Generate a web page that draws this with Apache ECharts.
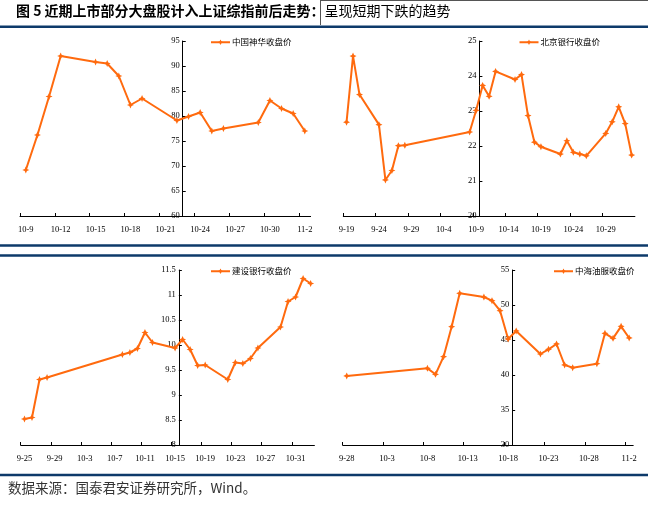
<!DOCTYPE html>
<html><head><meta charset="utf-8">
<script src="https://cdn.jsdelivr.net/npm/echarts@6/dist/echarts.min.js"></script>
<style>html,body{margin:0;padding:0;background:#fff}#c{width:648px;height:509px}</style>
</head><body><div id="c"></div>
<script>
const YEAR = 2007;

// 中国神华
const dates1 = ['10-9','10-10','10-11','10-12','10-15','10-16','10-17','10-18','10-19','10-22','10-23','10-24','10-25','10-26','10-29','10-30','10-31','11-1','11-2'];
const close1 = [69.2,76.2,83.9,92.0,90.8,90.5,88.0,82.2,83.5,79.1,79.9,80.7,77.0,77.5,78.7,83.1,81.5,80.5,77.0];
const ticks1 = ['10-9','10-12','10-15','10-18','10-21','10-24','10-27','10-30','11-2'];

// 北京银行
const dates2 = ['9-19','9-20','9-21','9-24','9-25','9-26','9-27','9-28','10-8','10-9','10-10','10-11','10-12','10-15','10-16','10-17','10-18','10-19','10-22','10-23','10-24','10-25','10-26','10-29','10-30','10-31','11-1','11-2'];
const close2 = [22.68,24.57,23.47,22.61,21.03,21.30,22.01,22.02,22.40,23.02,23.73,23.42,24.13,23.90,24.04,22.87,22.11,21.98,21.77,22.15,21.82,21.77,21.72,22.36,22.69,23.12,22.64,21.74];
const ticks2 = ['9-19','9-24','9-29','10-4','10-9','10-14','10-19','10-24','10-29'];

// 建设银行
const dates3 = ['9-25','9-26','9-27','9-28','10-8','10-9','10-10','10-11','10-12','10-15','10-16','10-17','10-18','10-19','10-22','10-23','10-24','10-25','10-26','10-29','10-30','10-31','11-1','11-2'];
const close3 = [8.52,8.55,9.31,9.35,9.81,9.85,9.93,10.25,10.05,9.94,10.11,9.91,9.59,9.60,9.31,9.65,9.63,9.73,9.94,10.36,10.87,10.96,11.33,11.23];
const ticks3 = ['9-25','9-29','10-3','10-7','10-11','10-15','10-19','10-23','10-27','10-31'];

// 中海油服
const dates4 = ['9-28','10-8','10-9','10-10','10-11','10-12','10-15','10-16','10-17','10-18','10-19','10-22','10-23','10-24','10-25','10-26','10-29','10-30','10-31','11-1','11-2'];
const close4 = [39.86,40.95,40.10,42.62,46.90,51.67,51.14,50.62,49.19,45.14,46.29,43.00,43.67,44.43,41.43,41.05,41.62,45.95,45.24,46.95,45.29];
const ticks4 = ['9-28','10-3','10-8','10-13','10-18','10-23','10-28','11-2'];

const names = ['中国神华收盘价','北京银行收盘价','建设银行收盘价','中海油服收盘价'];
const titleMain = '图 5 近期上市部分大盘股计入上证综指前后走势：';
const titleSub = '呈现短期下跌的趋势';
const sourceText = '数据来源：国泰君安证券研究所，Wind。';

function dayNum(s){const p=s.split('-').map(Number);return Date.UTC(YEAR,p[0]-1,p[1])/86400000;}

const panels = [
 {dates:dates1, vals:close1, ticks:ticks1, start:'10-9', end:'11-3', cross:'10-23', yMin:60, yMax:95, yStep:5,
  grid:{left:20,top:41,width:290.6,height:175}, legend:{left:210,top:38}},
 {dates:dates2, vals:close2, ticks:ticks2, start:'9-19', end:'11-3', cross:'10-10', yMin:20, yMax:25, yStep:1,
  grid:{left:343.3,top:41,width:291.6,height:175}, legend:{left:518.5,top:38}},
 {dates:dates3, vals:close3, ticks:ticks3, start:'9-25', end:'11-3', cross:'10-16', yMin:8, yMax:11.5, yStep:0.5,
  grid:{left:20.7,top:270,width:293.7,height:175}, legend:{left:210,top:267}},
 {dates:dates4, vals:close4, ticks:ticks4, start:'9-28', end:'11-3', cross:'10-19', yMin:30, yMax:55, yStep:5,
  grid:{left:342.7,top:270,width:290.5,height:175}, legend:{left:553,top:267}}
];

const ORANGE = '#FF6A0E';
const NAVY = '#0D3A6A';
const axisFont = {fontFamily:'Liberation Serif', fontSize:8.5, color:'#000'};
const starPath = 'path://M5,0 L6.6,3.4 L10,5 L6.6,6.6 L5,10 L3.4,6.6 L0,5 L3.4,3.4 Z';

const grids=[], xAxes=[], yAxes=[], series=[], legends=[];
panels.forEach((p,i)=>{
  const c = dayNum(p.cross);
  const xMin = dayNum(p.start)-c, xMax = dayNum(p.end)-c;
  const tickVals = p.ticks.map(t=>dayNum(t)-c);
  const labelVals = tickVals.map(v=>v+0.5);
  const labelMap = {};
  p.ticks.forEach((t,k)=>{labelMap[labelVals[k]] = t;});
  grids.push(Object.assign({containLabel:false}, p.grid));
  xAxes.push({
    type:'value', gridIndex:i, min:xMin, max:xMax,
    axisLine:{show:true, onZero:false, lineStyle:{color:'#000', width:1}},
    axisTick:{show:true, inside:true, length:3, customValues:tickVals, lineStyle:{color:'#000'}},
    axisLabel:Object.assign({show:true, margin:9, customValues:labelVals,
      formatter:v=>labelMap[v]!==undefined?labelMap[v]:''}, axisFont),
    splitLine:{show:false}
  });
  // place the vertical axis where the x value is 0 (the crossing date)
  const crossOffset = (0 - xMin)/(xMax - xMin) * p.grid.width;
  yAxes.push({
    type:'value', gridIndex:i, min:p.yMin, max:p.yMax, interval:p.yStep,
    position:'left', offset:-crossOffset,
    axisLine:{show:true, onZero:false, lineStyle:{color:'#000', width:1}},
    axisTick:{show:true, inside:true, length:3, lineStyle:{color:'#000'}},
    axisLabel:Object.assign({margin:3}, axisFont),
    splitLine:{show:false}
  });
  series.push({
    type:'line', name:names[i], xAxisIndex:i, yAxisIndex:i,
    data:p.dates.map((d,k)=>[dayNum(d)-c+0.5, p.vals[k]]),
    symbol:starPath, symbolSize:7, showSymbol:true,
    lineStyle:{color:ORANGE, width:2}, itemStyle:{color:ORANGE},
    emphasis:{disabled:true}
  });
  legends.push({
    data:[names[i]], left:p.legend.left, top:p.legend.top, orient:'horizontal',
    itemWidth:19, itemHeight:7, padding:0, selectedMode:false,
    textStyle:{fontFamily:'Noto Sans CJK SC', fontSize:8.5, color:'#000', padding:[0,0,0,-3]}
  });
});

const chart = echarts.init(document.getElementById('c'), null, {renderer:'canvas', width:648, height:509});
chart.setOption({
  animation:false,
  backgroundColor:'#fff',
  grid:grids, xAxis:xAxes, yAxis:yAxes, series:series, legend:legends,
  graphic:[
    {type:'text', left:16, top:4, style:{text:'{b|'+titleMain+'}{n|'+titleSub+'}',
      rich:{b:{fontFamily:'Noto Sans CJK SC', fontSize:14, fontWeight:'bold', fill:'#000'},
            n:{fontFamily:'Noto Sans CJK SC', fontSize:14, fontWeight:'normal', fill:'#000'}}}},
    {type:'line', shape:{x1:320.5,y1:0.5,x2:648,y2:0.5}, style:{stroke:'#555', lineWidth:1}},
    {type:'line', shape:{x1:320.5,y1:0,x2:320.5,y2:25}, style:{stroke:'#555', lineWidth:1}},
    {type:'rect', shape:{x:0,y:25.5,width:648,height:2.5}, style:{fill:NAVY}},
    {type:'rect', shape:{x:0,y:244.3,width:648,height:2.5}, style:{fill:NAVY}},
    {type:'rect', shape:{x:0,y:254.3,width:648,height:2.5}, style:{fill:NAVY}},
    {type:'rect', shape:{x:0,y:473.8,width:648,height:2.5}, style:{fill:NAVY}},
    {type:'text', left:8, top:481, style:{text:sourceText, fontFamily:'Noto Sans CJK SC', fontSize:13.5, fill:'#333'}}
  ]
});
</script></body></html>
